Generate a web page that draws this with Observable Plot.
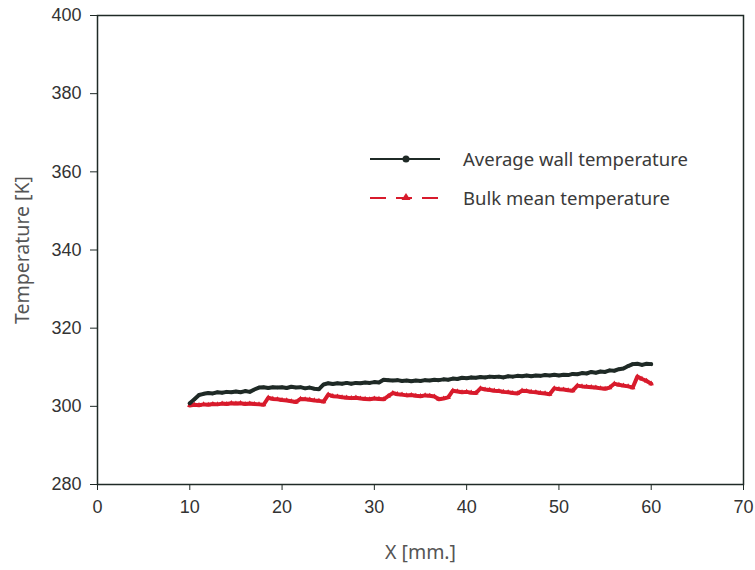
<!DOCTYPE html>
<html>
<head>
<meta charset="utf-8">
<script src="https://cdn.jsdelivr.net/npm/d3@7"></script>
<script src="https://cdn.jsdelivr.net/npm/@observablehq/plot@0.6"></script>
<style>
  html, body { margin: 0; padding: 0; background: #fff; }
  #wrap { position: relative; width: 755px; height: 570px; }
  #legend { position: absolute; left: 368px; top: 139px; font-family: "Noto Sans", sans-serif; font-size: 18.5px; color: #3a3a3a; }
  #legend .row { display: flex; align-items: center; height: 39px; }
  #legend svg { margin-right: 21px; }
</style>
</head>
<body>
<div id="wrap"></div>
<script>
const xValues = [10.0,10.5,11.0,11.5,12.0,12.5,13.0,13.5,14.0,14.5,15.0,15.5,16.0,16.5,17.0,17.5,18.0,18.5,19.0,19.5,
  20.0,20.5,21.0,21.5,22.0,22.5,23.0,23.5,24.0,24.5,25.0,25.5,26.0,26.5,27.0,27.5,28.0,28.5,29.0,29.5,
  30.0,30.5,31.0,31.5,32.0,32.5,33.0,33.5,34.0,34.5,35.0,35.5,36.0,36.5,37.0,37.5,38.0,38.5,39.0,39.5,
  40.0,40.5,41.0,41.5,42.0,42.5,43.0,43.5,44.0,44.5,45.0,45.5,46.0,46.5,47.0,47.5,48.0,48.5,49.0,49.5,
  50.0,50.5,51.0,51.5,52.0,52.5,53.0,53.5,54.0,54.5,55.0,55.5,56.0,56.5,57.0,57.5,58.0,58.5,59.0,59.5,60.0];

const wallTemp = [300.8,301.8,302.9,303.2,303.4,303.3,303.6,303.5,303.7,303.6,303.8,303.6,303.9,303.7,304.3,304.8,304.9,304.7,304.9,304.8,
  304.9,304.7,305.0,304.8,304.9,304.6,304.8,304.5,304.4,305.6,305.9,305.7,305.9,305.8,306.0,305.8,306.0,305.9,306.1,306.0,
  306.2,306.1,306.8,306.7,306.6,306.7,306.5,306.6,306.4,306.6,306.5,306.7,306.6,306.8,306.7,306.9,306.8,307.1,307.0,307.3,
  307.2,307.4,307.3,307.5,307.4,307.6,307.5,307.6,307.4,307.7,307.6,307.8,307.7,307.9,307.7,307.9,307.8,308.0,307.9,308.1,
  307.9,308.1,308.0,308.3,308.2,308.5,308.4,308.8,308.6,308.9,308.8,309.2,309.1,309.5,309.7,310.3,310.8,310.9,310.6,310.9,310.8];

const bulkTemp = [300.2,300.4,300.3,300.5,300.4,300.6,300.5,300.7,300.6,300.8,300.7,300.8,300.6,300.7,300.6,300.5,300.4,302.2,301.9,301.8,
  301.6,301.5,301.3,301.1,301.9,301.8,301.7,301.5,301.4,301.2,303.0,302.6,302.5,302.3,302.2,302.1,302.2,302.0,301.9,301.8,
  302.0,301.9,301.8,302.6,303.4,303.1,303.0,302.8,302.9,302.7,302.6,302.8,302.7,302.5,301.8,302.0,302.3,304.0,303.8,303.6,
  303.7,303.5,303.4,304.6,304.3,304.2,304.0,303.9,303.7,303.6,303.4,303.3,304.0,303.9,303.7,303.6,303.4,303.3,303.1,304.6,
  304.4,304.3,304.1,304.0,305.3,305.1,305.0,304.9,304.8,304.6,304.5,304.8,305.8,305.5,305.3,305.1,304.8,307.6,307.0,306.5,305.8];

const xTicks = [0, 10, 20, 30, 40, 50, 60, 70];
const yTicks = [280, 300, 320, 340, 360, 380, 400];
const seriesNames = ["Average wall temperature", "Bulk mean temperature"];
const seriesColors = ["#1f2a26", "#d81b2c"];

const wall = xValues.map((x, i) => ({x, t: wallTemp[i]}));
const bulk = xValues.map((x, i) => ({x, t: bulkTemp[i]}));

const tickFont = "'Liberation Sans', Arial, sans-serif";

const chart = Plot.plot({
  width: 755,
  height: 570,
  marginLeft: 97,
  marginRight: 12,
  marginTop: 15,
  marginBottom: 86,
  style: {fontFamily: tickFont, fontSize: "18px", color: "#333", background: "#fff"},
  x: {domain: [0, 70]},
  y: {domain: [280, 400]},
  marks: [
    Plot.frame({stroke: "#1f2a26", strokeWidth: 1.5}),
    Plot.line(bulk, {x: "x", y: "t", stroke: seriesColors[1], strokeWidth: 4}),
    Plot.dot(bulk, {x: "x", y: "t", symbol: "triangle", r: 2, fill: seriesColors[1]}),
    Plot.line(wall, {x: "x", y: "t", stroke: seriesColors[0], strokeWidth: 4}),
    Plot.dot(wall, {x: "x", y: "t", r: 1.8, fill: seriesColors[0]}),
    Plot.axisX({ticks: xTicks, tickSize: 6, tickPadding: 10, stroke: "#1f2a26", fontSize: 18, fill: "#333",
      label: "X [mm.]", labelAnchor: "center", labelArrow: "none", labelOffset: 74}),
    Plot.axisY({ticks: yTicks, tickSize: 7, tickPadding: 9, stroke: "#1f2a26", fontSize: 18, fill: "#333",
      label: "Temperature [K]", labelAnchor: "center", labelArrow: "none", labelOffset: 82})
  ]
});

const wrap = document.getElementById("wrap");
wrap.appendChild(chart);

chart.querySelectorAll("g[aria-label='x-axis label'] text, g[aria-label='y-axis label'] text").forEach(t => {
  t.style.fontSize = "19.5px";
  t.style.fontFamily = "'Noto Sans', sans-serif";
  t.style.fill = "#555";
});

// legend overlay
const legend = document.createElement("div");
legend.id = "legend";
const swatches = [
  `<svg width="74" height="14"><line x1="2" y1="7" x2="72" y2="7" stroke="${seriesColors[0]}" stroke-width="2"/><circle cx="38" cy="7" r="3.5" fill="${seriesColors[0]}"/></svg>`,
  `<svg width="74" height="14"><line x1="2" y1="7" x2="72" y2="7" stroke="${seriesColors[1]}" stroke-width="2" stroke-dasharray="16,10"/><path d="M38,2 L42.5,9 L33.5,9 Z" fill="${seriesColors[1]}"/></svg>`
];
legend.innerHTML = seriesNames.map((n, i) => `<div class="row">${swatches[i]}<span>${n}</span></div>`).join("");
wrap.appendChild(legend);
</script>
</body>
</html>
